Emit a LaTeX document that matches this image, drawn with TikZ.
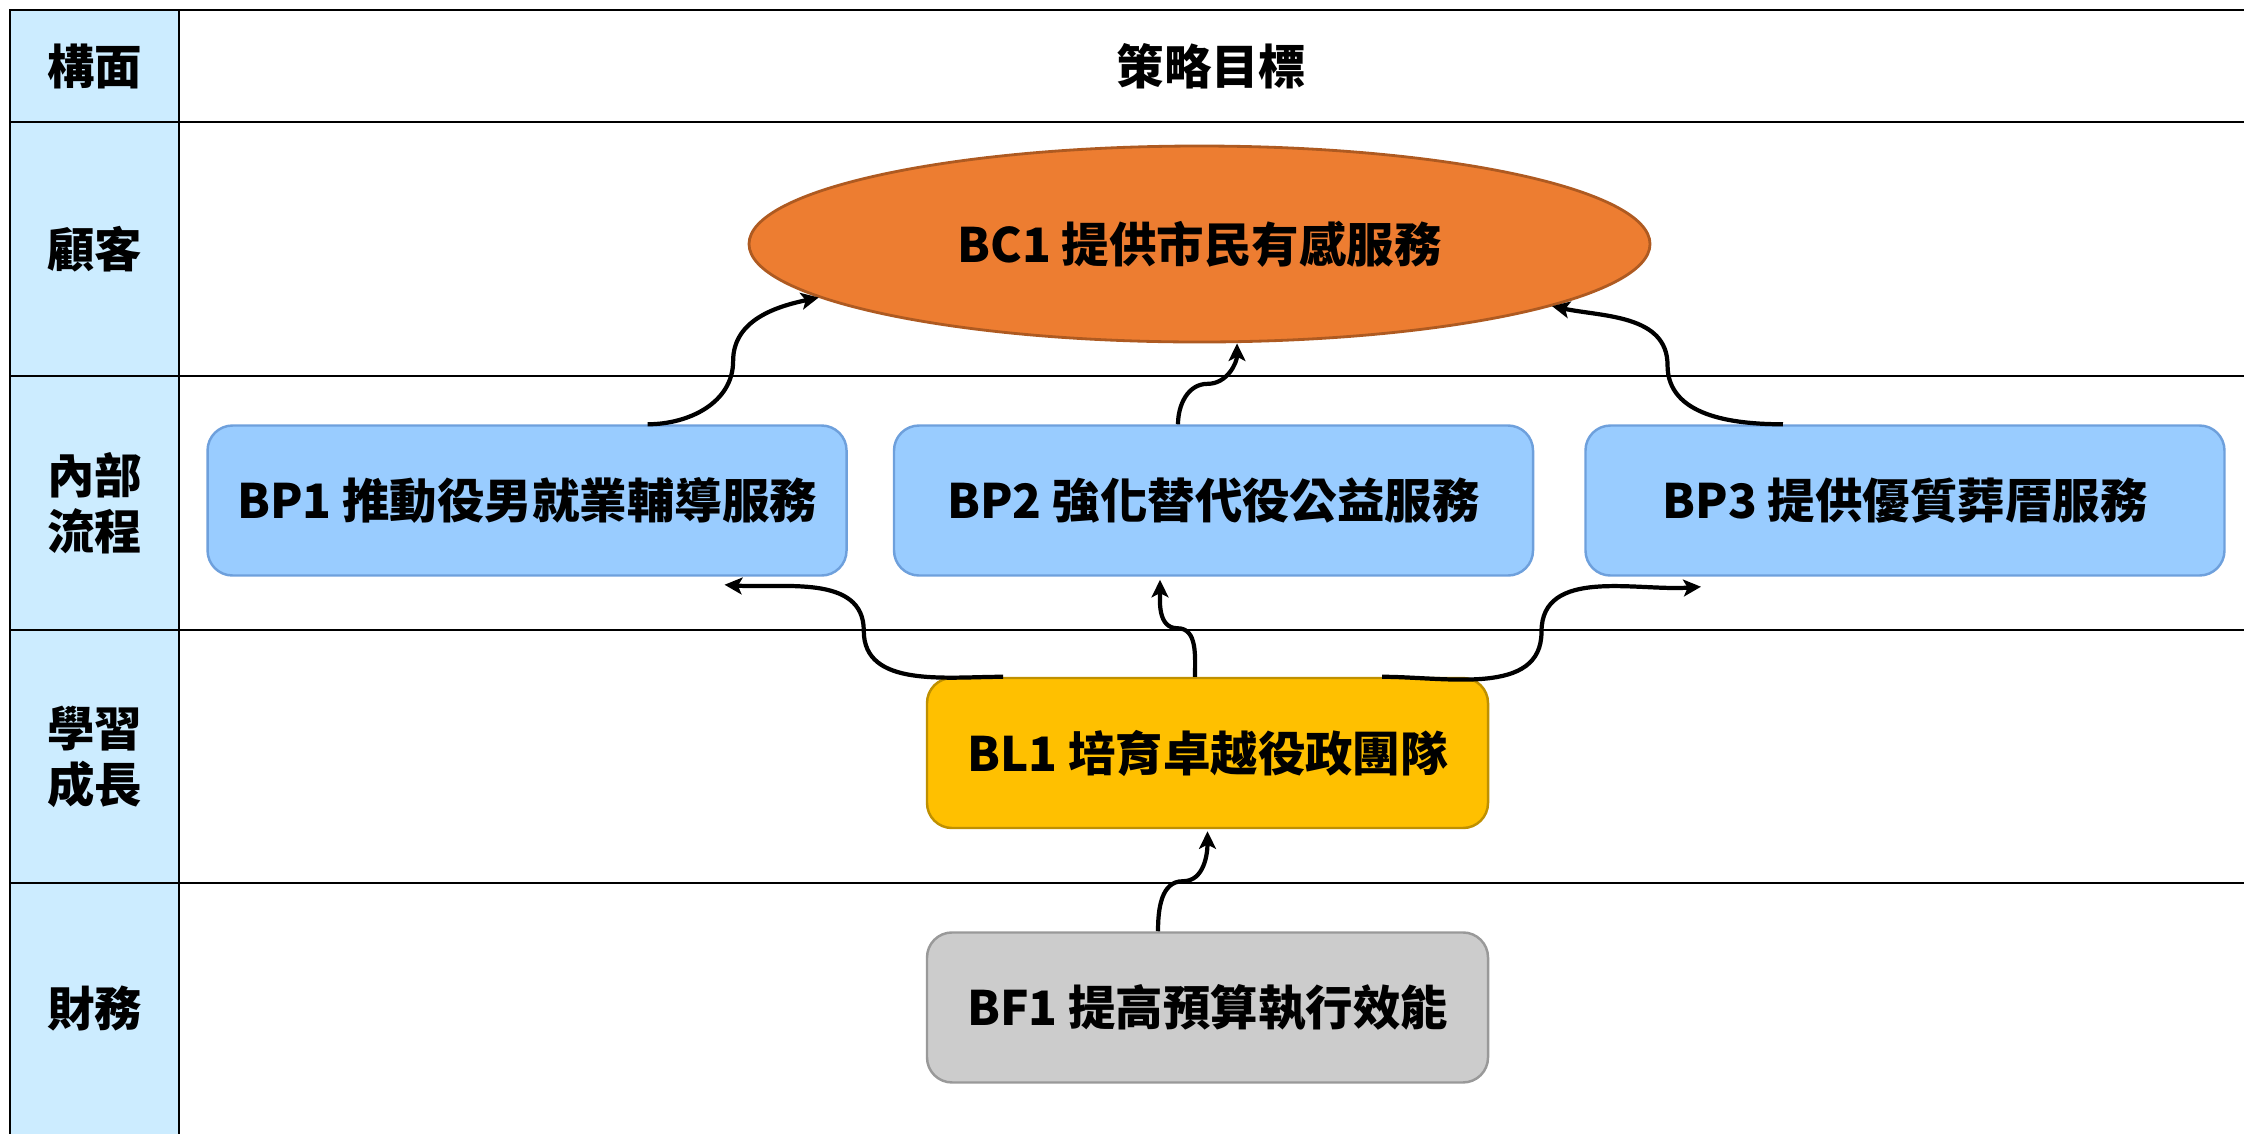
\documentclass[tikz,border=0pt]{standalone}
\usepackage{fontspec}
\setmainfont{Noto Sans CJK TC}
\definecolor{aspect-blue}{RGB}{204,236,255}
\definecolor{process-blue}{RGB}{153,204,255}
\definecolor{process-edge}{RGB}{110,160,220}
\definecolor{customer-orange}{RGB}{237,125,49}
\definecolor{customer-edge}{RGB}{174,90,33}
\definecolor{learning-gold}{RGB}{255,192,0}
\definecolor{learning-edge}{RGB}{191,144,0}
\definecolor{finance-grey}{RGB}{204,204,204}
\definecolor{finance-edge}{RGB}{153,153,153}
\usetikzlibrary{calc}
\usetikzlibrary{positioning}
\usetikzlibrary{shapes.geometric}
\usetikzlibrary{arrows.meta}

\begin{document}
\begin{tikzpicture}[%
            gridline/.style={line width=0.75pt},
            label text/.style={%
              font=\bfseries\fontsize{13.5}{16}\selectfont,
              align=center,
            },
            goal/.style={%
              label text,
              ellipse,
              draw=customer-edge,
              fill=customer-orange,
              line width=0.8pt,
              inner sep=0pt,
              minimum width=9.01cm,
              minimum height=1.96cm,
            },
            objective/.style={%
              label text,
              rounded corners=0.25cm,
              line width=0.7pt,
              inner sep=0pt,
              minimum width=6.39cm,
              minimum height=1.5cm,
            },
            link/.style={%
              line width=1.2pt,
              -{Stealth[length=5pt,width=4.8pt,inset=1.2pt]},
            }
          ]
            \useasboundingbox (0,0) rectangle (22.44,-11.34);

            % table
            \fill [aspect-blue] (0.10,-0.10) rectangle (1.79,-11.34);
            \draw [gridline] (22.44,-0.10) -- (0.10,-0.10) -- (0.10,-11.34);
            \draw [gridline] (1.79,-0.10) -- (1.79,-11.34);
            \foreach \y in {-1.22,-3.76,-6.30,-8.83}
              \draw [gridline] (0.10,\y) -- (22.44,\y);
            \foreach \name/\y/\txt in {face/-0.66/構面,customer/-2.49/顧客,process/-5.03/{內部\\流程},learning/-7.565/{學習\\成長},finance/-10.085/財務}
              \node [label text] (\name) at (0.945,\y) {\txt};
            \node [label text] (goals) at (12.115,-0.66) {策略目標};

            % objectives
            \node [goal] (bc1) at (11.995,-2.44) {BC1 提供市民有感服務};
            \node [%
              objective,
              draw=process-edge,
              fill=process-blue,
            ] (bp2) at (12.135,-5.005) {BP2 強化替代役公益服務};
            \node [%
              objective,
              draw=process-edge,
              fill=process-blue,
              left=0.45cm of bp2,
            ] (bp1) {BP1 推動役男就業輔導服務};
            \node [%
              objective,
              draw=process-edge,
              fill=process-blue,
              right=0.5cm of bp2,
            ] (bp3) {BP3 提供優質葬厝服務};
            \node [%
              objective,
              draw=learning-edge,
              fill=learning-gold,
              minimum width=5.61cm,
            ] (bl1) at (12.075,-7.53) {BL1 培育卓越役政團隊};
            \node [%
              objective,
              draw=finance-edge,
              fill=finance-grey,
              minimum width=5.61cm,
              below=1.02cm of bl1,
            ] (bf1) {BF1 提高預算執行效能};

            % links
            \coordinate (bp1 up) at ([xshift=1.205cm]bp1.north);
            \coordinate (bp2 up) at ([xshift=-0.355cm]bp2.north);
            \coordinate (bp3 up) at ([xshift=-1.22cm]bp3.north);
            \coordinate (bc1 in) at ([xshift=0.375cm]bc1.south);
            \draw [link] (bp1 up) to[out=0,in=-90] ($(bp1 up)!.5!(bc1.188)$) to[out=90,in=192] (bc1.188);
            \draw [link] (bp2 up) to[out=90,in=180] ($(bp2 up)!.5!(bc1 in)$) to[out=0,in=-90] (bc1 in);
            \draw [link] (bp3 up) to[out=180,in=-90] ($(bp3 up)!.5!(bc1.350)$) to[out=90,in=-12] (bc1.350);

            \coordinate (bl1 left) at ([xshift=-2.045cm]bl1.north);
            \coordinate (bl1 mid) at ([xshift=-0.125cm]bl1.north);
            \coordinate (bl1 right) at ([xshift=1.745cm]bl1.north);
            \coordinate (bp1 in) at ([xshift=1.975cm,yshift=-0.08cm]bp1.south);
            \coordinate (bp2 in) at ([xshift=-0.535cm,yshift=-0.03cm]bp2.south);
            \coordinate (bp3 in) at ([xshift=-2.04cm,yshift=-0.1cm]bp3.south);
            \draw [link] (bl1 left) to[out=180,in=-90] ($(bl1 left)!.5!(bp1 in)$) to[out=90,in=-4] (bp1 in);
            \draw [link] (bl1 mid) to[out=90,in=0] ($(bl1 mid)!.5!(bp2 in)$) to[out=180,in=-90] (bp2 in);
            \draw [link] (bl1 right) to[out=0,in=-90] ($(bl1 right)!.5!(bp3 in)$) to[out=90,in=184] (bp3 in);

            \coordinate (bf1 up) at ([xshift=-0.495cm]bf1.north);
            \coordinate (bl1 in) at ([yshift=-0.02cm]bl1.south);
            \draw [link] (bf1 up) to[out=90,in=180] ($(bf1 up)!.5!(bl1 in)$) to[out=0,in=-90] (bl1 in);
          \end{tikzpicture}
\end{document}
